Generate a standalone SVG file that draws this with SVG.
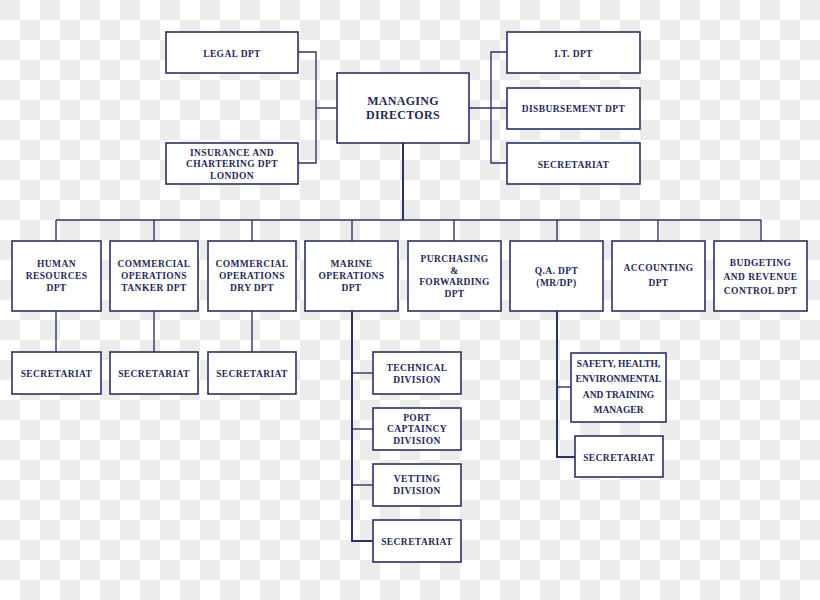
<svg xmlns="http://www.w3.org/2000/svg" width="820" height="600" viewBox="0 0 820 600">
<defs>
<pattern id="chk" x="0" y="0" width="40" height="40" patternUnits="userSpaceOnUse">
<rect x="0" y="0" width="40" height="40" fill="#ffffff"/>
<rect x="0" y="0" width="20" height="20" fill="#ececec"/>
<rect x="20" y="20" width="20" height="20" fill="#ececec"/>
</pattern>
</defs>
<style>
.box{fill:#ffffff;stroke:#2b3164;stroke-width:1.6}
.t{font-family:"Liberation Serif","Times New Roman",serif;font-weight:bold;font-size:9.5px;fill:#1f2858;text-anchor:middle;letter-spacing:0.4px}
.big{font-size:12px;letter-spacing:0.3px}
.n{letter-spacing:0px}
.c{fill:none;stroke:#2f3566;stroke-width:1.4}
.ct{fill:none;stroke:#2b3164;stroke-width:2}
</style>
<rect x="0" y="0" width="820" height="600" fill="url(#chk)"/>
<g id="connectors">
<polyline class="c" points="298,52 316,52 316,163 298,163"/>
<line class="c" x1="316" y1="108" x2="337" y2="108"/>
<polyline class="c" points="507,52 491,52 491,163 507,163"/>
<line class="c" x1="469" y1="108" x2="507" y2="108"/>
<line class="ct" x1="403" y1="143" x2="403" y2="220"/>
<line class="c" x1="56" y1="220" x2="761" y2="220"/>
<line class="c" x1="56" y1="220" x2="56" y2="241"/>
<line class="c" x1="154" y1="220" x2="154" y2="241"/>
<line class="c" x1="252" y1="220" x2="252" y2="241"/>
<line class="c" x1="352" y1="220" x2="352" y2="241"/>
<line class="c" x1="454" y1="220" x2="454" y2="241"/>
<line class="c" x1="557" y1="220" x2="557" y2="241"/>
<line class="c" x1="658" y1="220" x2="658" y2="241"/>
<line class="c" x1="761" y1="220" x2="761" y2="241"/>
<line class="c" x1="56" y1="311" x2="56" y2="352"/>
<line class="c" x1="154" y1="311" x2="154" y2="352"/>
<line class="c" x1="252" y1="311" x2="252" y2="352"/>
<polyline class="ct" points="352,311 352,541 373,541"/>
<line class="c" x1="352" y1="373" x2="373" y2="373"/>
<line class="c" x1="352" y1="429" x2="373" y2="429"/>
<line class="c" x1="352" y1="485" x2="373" y2="485"/>
<polyline class="ct" points="557,311 557,457 575,457"/>
<line class="c" x1="557" y1="387" x2="571" y2="387"/>
</g>
<g id="legal"><rect class="box" x="166" y="32" width="132" height="41"/><text class="t" x="232" y="56.5">LEGAL DPT</text></g>
<g id="insurance"><rect class="box" x="166" y="143" width="132" height="41"/><text class="t" x="232" y="155.5">INSURANCE AND</text><text class="t" x="232" y="167">CHARTERING DPT</text><text class="t" x="232" y="178.5">LONDON</text></g>
<g id="md"><rect class="box" x="337" y="73" width="132" height="70"/><text class="t big" x="403" y="105">MANAGING</text><text class="t big" x="403" y="118.5">DIRECTORS</text></g>
<g id="it"><rect class="box" x="507" y="32" width="133" height="41"/><text class="t" x="573.5" y="56.5">I.T. DPT</text></g>
<g id="disb"><rect class="box" x="507" y="88" width="133" height="41"/><text class="t" x="573.5" y="112">DISBURSEMENT DPT</text></g>
<g id="sec-top"><rect class="box" x="507" y="143" width="133" height="41"/><text class="t" x="573.5" y="167.5">SECRETARIAT</text></g>
<g id="hr"><rect class="box" x="12" y="241" width="89" height="70"/><text class="t" x="56.5" y="266.5">HUMAN</text><text class="t" x="56.5" y="278.5">RESOURCES</text><text class="t" x="56.5" y="290.5">DPT</text></g>
<g id="cot"><rect class="box" x="110" y="241" width="88" height="70"/><text class="t" x="154" y="266.5">COMMERCIAL</text><text class="t" x="154" y="278.5">OPERATIONS</text><text class="t" x="154" y="290.5">TANKER DPT</text></g>
<g id="cod"><rect class="box" x="208" y="241" width="88" height="70"/><text class="t" x="252" y="266.5">COMMERCIAL</text><text class="t" x="252" y="278.5">OPERATIONS</text><text class="t" x="252" y="290.5">DRY DPT</text></g>
<g id="marine"><rect class="box" x="305" y="241" width="93" height="70"/><text class="t" x="351.5" y="266.5">MARINE</text><text class="t" x="351.5" y="278.5">OPERATIONS</text><text class="t" x="351.5" y="290.5">DPT</text></g>
<g id="purch"><rect class="box" x="408" y="241" width="93" height="70"/><text class="t" x="454.5" y="261.5">PURCHASING</text><text class="t" x="454.5" y="273.5">&amp;</text><text class="t" x="454.5" y="285">FORWARDING</text><text class="t" x="454.5" y="296.5">DPT</text></g>
<g id="qa"><rect class="box" x="510" y="241" width="93" height="70"/><text class="t" x="556.5" y="273.5">Q.A. DPT</text><text class="t" x="556.5" y="285.5">(MR/DP)</text></g>
<g id="acc"><rect class="box" x="612" y="241" width="93" height="70"/><text class="t" x="658.5" y="270.5">ACCOUNTING</text><text class="t" x="658.5" y="285.5">DPT</text></g>
<g id="budget"><rect class="box" x="714" y="241" width="93" height="70"/><text class="t" x="760.5" y="265.5">BUDGETING</text><text class="t" x="760.5" y="279.5">AND REVENUE</text><text class="t" x="760.5" y="293.5">CONTROL DPT</text></g>
<g id="sec-hr"><rect class="box" x="12" y="352" width="89" height="42"/><text class="t" x="56.5" y="376.5">SECRETARIAT</text></g>
<g id="sec-cot"><rect class="box" x="110" y="352" width="88" height="42"/><text class="t" x="154" y="376.5">SECRETARIAT</text></g>
<g id="sec-cod"><rect class="box" x="208" y="352" width="88" height="42"/><text class="t" x="252" y="376.5">SECRETARIAT</text></g>
<g id="tech"><rect class="box" x="373" y="352" width="88" height="42"/><text class="t" x="417" y="370.5">TECHNICAL</text><text class="t" x="417" y="382.5">DIVISION</text></g>
<g id="port"><rect class="box" x="373" y="408" width="88" height="42"/><text class="t" x="417" y="420.5">PORT</text><text class="t" x="417" y="432">CAPTAINCY</text><text class="t" x="417" y="443.5">DIVISION</text></g>
<g id="vet"><rect class="box" x="373" y="464" width="88" height="42"/><text class="t" x="417" y="482">VETTING</text><text class="t" x="417" y="494">DIVISION</text></g>
<g id="sec-mar"><rect class="box" x="373" y="520" width="88" height="42"/><text class="t" x="417" y="544.5">SECRETARIAT</text></g>
<g id="safety"><rect class="box" x="571" y="353" width="95" height="69"/><text class="t n" x="618.5" y="366.5">SAFETY, HEALTH,</text><text class="t n" x="618.5" y="381.5">ENVIRONMENTAL</text><text class="t n" x="618.5" y="397.5">AND TRAINING</text><text class="t n" x="618.5" y="413">MANAGER</text></g>
<g id="sec-qa"><rect class="box" x="575" y="436" width="88" height="41"/><text class="t" x="619" y="460.5">SECRETARIAT</text></g>
</svg>
